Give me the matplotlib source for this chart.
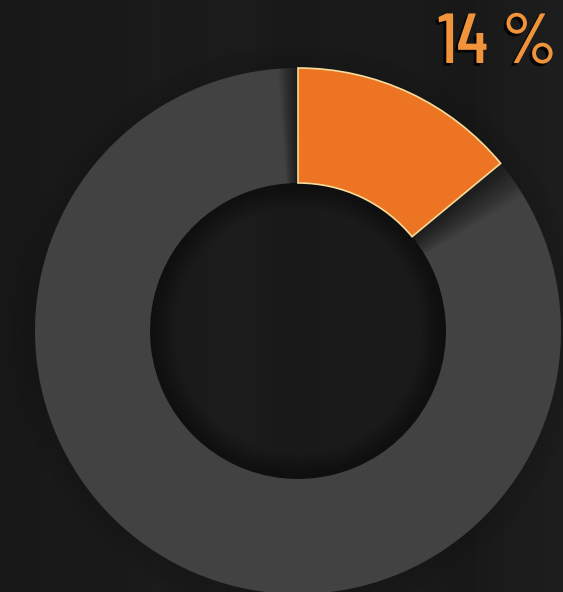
import matplotlib.pyplot as plt
import matplotlib.patheffects as pe
import numpy as np

# 数据
labels = ["完成", "剩余"]
values = [14, 86]
pct_text = "14 %"

bg_color = "#1b1b1b"
colors = ["#ec7422", "#424242"]
center = (298, 261)
radius = 263
ring_width = 115

fig = plt.figure(figsize=(5.63, 5.92), dpi=100, facecolor=bg_color)
ax = fig.add_axes([0, 0, 1, 1])
ax.set_facecolor(bg_color)

# 背景的微弱纹理 (竖向亮暗变化)
shade = np.array([0.09, 0.105, 0.095, 0.11, 0.10, 0.115, 0.095, 0.105, 0.10, 0.11, 0.09, 0.105, 0.115])
img = np.repeat(shade[None, :, None], 3, axis=2)
ax.imshow(img, extent=[0, 563, 0, 592], aspect="auto", interpolation="bicubic", zorder=0)

# 圆环外侧和内侧的暗影
for k in range(6):
    ax.pie([1], center=center, radius=radius + 3 + k * 4, colors=["black"],
           wedgeprops=dict(width=4, alpha=0.10 - k * 0.015, linewidth=0), frame=True)
    ax.pie([1], center=center, radius=radius - ring_width, colors=["black"],
           wedgeprops=dict(width=4 + k * 4, alpha=0.06, linewidth=0), frame=True)

# 圆环
wedges, _ = ax.pie(values, startangle=90, counterclock=False, center=center,
                   radius=radius, colors=colors,
                   wedgeprops=dict(width=ring_width, linewidth=0), frame=True)
wedges[1].set_zorder(1)

# 橙色扇区两侧的阴影
for i in range(12):
    pad_l, pad_r = 0.1 + i * 0.1, 0.15 + i * 0.2
    sw, _ = ax.pie([values[0] + pad_l + pad_r, 100 - values[0] - pad_l - pad_r],
                   startangle=90 + pad_l * 3.6, counterclock=False, center=center,
                   radius=radius, colors=["black", "none"],
                   wedgeprops=dict(width=ring_width, alpha=0.06, linewidth=0), frame=True)
    for w in sw:
        w.set_zorder(3)

wedges[0].set_edgecolor("#f7dc9c")
wedges[0].set_linewidth(1.2)
wedges[0].set_zorder(5)

ax.set_xlim(0, 563)
ax.set_ylim(0, 592)
ax.set_aspect("auto")
ax.axis("off")

ax.text(557, 529, pct_text, ha="right", va="baseline", fontsize=51, color="#f0933a",
        family=["Barlow Condensed", "Roboto Condensed", "DejaVu Sans"], fontweight="medium",
        zorder=10,
        path_effects=[pe.withSimplePatchShadow(offset=(-2, -2), shadow_rgbFace="black", alpha=0.8)])

plt.savefig("out.png", dpi=100, facecolor=bg_color)
